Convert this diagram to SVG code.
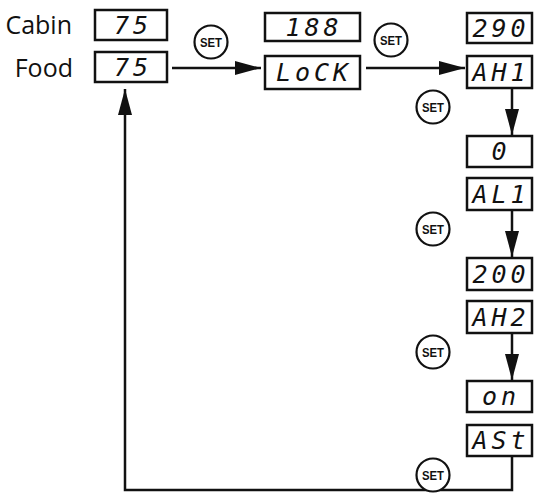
<svg xmlns="http://www.w3.org/2000/svg" width="541" height="503" viewBox="0 0 541 503">
<style>
.box{fill:#fff;stroke:#111;stroke-width:2.5}
.seg{font-family:"DejaVu Sans Mono",monospace;font-style:italic;font-size:25px;fill:#111;text-anchor:middle;letter-spacing:4px}
.lbl{font-family:"Open Sans","Liberation Sans",sans-serif;font-size:25px;fill:#111;text-anchor:end}
.setc{fill:#fff;stroke:#111;stroke-width:2.2}
.sett{font-family:"Liberation Sans",sans-serif;font-weight:bold;font-size:13px;fill:#111;text-anchor:middle}
.conn{fill:none;stroke:#111;stroke-width:2.5}
</style>
<defs>
<marker id="ahb" viewBox="0 0 26 14" refX="26" refY="7" markerWidth="26" markerHeight="14" orient="auto" markerUnits="userSpaceOnUse">
<path d="M0,0 L26,7 L0,14 z" fill="#111"/>
</marker>
</defs>
<g id="labels">
<text class="lbl" x="72" y="34">Cabin</text>
<text class="lbl" x="73" y="77">Food</text>
</g>
<g id="connectors">
<line class="conn" x1="172" y1="68" x2="261" y2="68" marker-end="url(#ahb)"/>
<line class="conn" x1="366" y1="68" x2="465" y2="68" marker-end="url(#ahb)"/>
<line class="conn" x1="512" y1="89" x2="512" y2="135" marker-end="url(#ahb)"/>
<line class="conn" x1="512" y1="211" x2="512" y2="257" marker-end="url(#ahb)"/>
<line class="conn" x1="512" y1="334" x2="512" y2="380" marker-end="url(#ahb)"/>
<polyline class="conn" points="512,457 512,490 125,490 125,89" marker-end="url(#ahb)"/>
</g>
<g id="n-cabin"><rect class="box" x="95" y="10" width="72" height="30"/><text class="seg" x="133" y="34">75</text></g>
<g id="n-food"><rect class="box" x="95" y="52" width="72" height="30"/><text class="seg" x="133" y="76">75</text></g>
<g id="n-188"><rect class="box" x="265" y="13" width="95" height="28"/><text class="seg" x="314" y="36">188</text></g>
<g id="n-lock"><rect class="box" x="265" y="56" width="95" height="33"/><text class="seg" x="314" y="81">LoCK</text></g>
<g id="n-290"><rect class="box" x="467" y="13" width="65" height="30"/><text class="seg" x="501" y="37">290</text></g>
<g id="n-ah1"><rect class="box" x="467" y="56" width="65" height="32"/><text class="seg" x="501" y="81">AH1</text></g>
<g id="n-0"><rect class="box" x="467" y="136" width="65" height="31"/><text class="seg" x="501" y="160">0</text></g>
<g id="n-al1"><rect class="box" x="467" y="178" width="65" height="32"/><text class="seg" x="501" y="203">AL1</text></g>
<g id="n-200"><rect class="box" x="467" y="258" width="65" height="32"/><text class="seg" x="501" y="283">200</text></g>
<g id="n-ah2"><rect class="box" x="467" y="301" width="65" height="32"/><text class="seg" x="501" y="326">AH2</text></g>
<g id="n-on"><rect class="box" x="467" y="381" width="65" height="31"/><text class="seg" x="501" y="405">on</text></g>
<g id="n-ast"><rect class="box" x="467" y="425" width="65" height="31"/><text class="seg" x="501" y="449">ASt</text></g>
<g id="set1"><circle class="setc" cx="211" cy="42" r="16.5"/><text class="sett" x="211" y="47" textLength="22" lengthAdjust="spacingAndGlyphs">SET</text></g>
<g id="set2"><circle class="setc" cx="391" cy="40" r="16.5"/><text class="sett" x="391" y="45" textLength="22" lengthAdjust="spacingAndGlyphs">SET</text></g>
<g id="set3"><circle class="setc" cx="433" cy="107" r="16.5"/><text class="sett" x="433" y="112" textLength="22" lengthAdjust="spacingAndGlyphs">SET</text></g>
<g id="set4"><circle class="setc" cx="433" cy="229" r="16.5"/><text class="sett" x="433" y="234" textLength="22" lengthAdjust="spacingAndGlyphs">SET</text></g>
<g id="set5"><circle class="setc" cx="433" cy="352" r="16.5"/><text class="sett" x="433" y="357" textLength="22" lengthAdjust="spacingAndGlyphs">SET</text></g>
<g id="set6"><circle class="setc" cx="433" cy="475" r="16.5"/><text class="sett" x="433" y="480" textLength="22" lengthAdjust="spacingAndGlyphs">SET</text></g>
</svg>
